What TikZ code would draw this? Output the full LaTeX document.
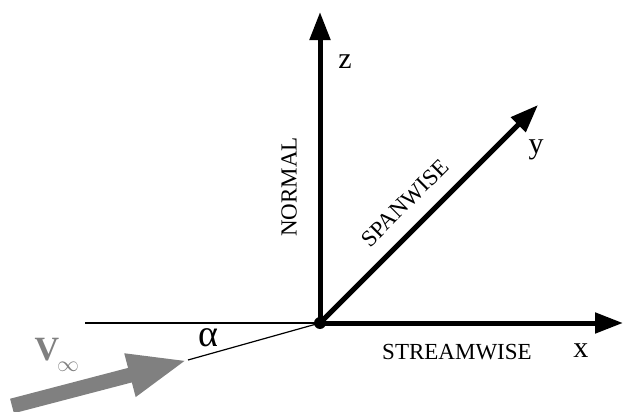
\documentclass[tikz,border=0pt]{standalone}
\usepackage{fontspec}
\setmainfont{Liberation Serif}
\usepackage{tikz}
\usetikzlibrary{arrows.meta}
\definecolor{flowgray}{RGB}{128,128,128}

\begin{document}
\begin{tikzpicture}[x=0.5pt,y=-0.5pt,
  axis/.style={line width=2.5pt,-{Triangle[length=14pt,width=10pt]}},
  axislabel/.style={font=\fontsize{15}{17}\selectfont},
  dirlabel/.style={font=\fontsize{11.5}{13}\selectfont, inner sep=1pt}]
  \useasboundingbox (0,0) rectangle (623,412);

  % Origine et extrémités des axes
  \coordinate (O) at (320,323);
  \coordinate (xtip) at (623,323);
  \coordinate (ytip) at (538,105);
  \coordinate (ztip) at (320,12);
  \coordinate (horiz) at (85,323);
  \coordinate (vtail) at (12,406);
  \coordinate (vtip) at (188,360);

  % Ligne de référence et direction de l'écoulement
  \draw[line width=0.6pt] (horiz) -- (O);
  \draw[line width=0.6pt] (vtip) -- (O);

  % Axes
  \draw[axis] (O) -- (xtip);
  \draw[axis] (O) -- (ytip);
  \draw[axis] (O) -- (ztip);
  \fill (O) circle (3pt);

  % Flèche de vitesse
  \draw[flowgray, line width=7.5pt,
        -{Triangle[length=30pt,width=20pt]}] (vtail) -- (vtip);

  % Étiquettes
  \node[axislabel] (xl) at (581,351) {x};
  \node[axislabel] (yl) at (536,150) {y};
  \node[axislabel] (zl) at (345,62) {z};
  \node[dirlabel] (stream) at (457,352) {STREAMWISE};
  \node[dirlabel, rotate=90] (normal) at (289,187) {NORMAL};
  \node[dirlabel, rotate=45] (span) at (405,203) {SPANWISE};
  \node[font=\fontsize{19}{21}\selectfont] (alpha) at (208,338) {α};
  \node[text=flowgray, font=\fontsize{17}{19}\selectfont\bfseries] (vinf) at (47,350) {V};
  \node[text=flowgray, font=\fontsize{11}{12}\selectfont] (inf) at (68,367) {$\infty$};
\end{tikzpicture}
\end{document}
